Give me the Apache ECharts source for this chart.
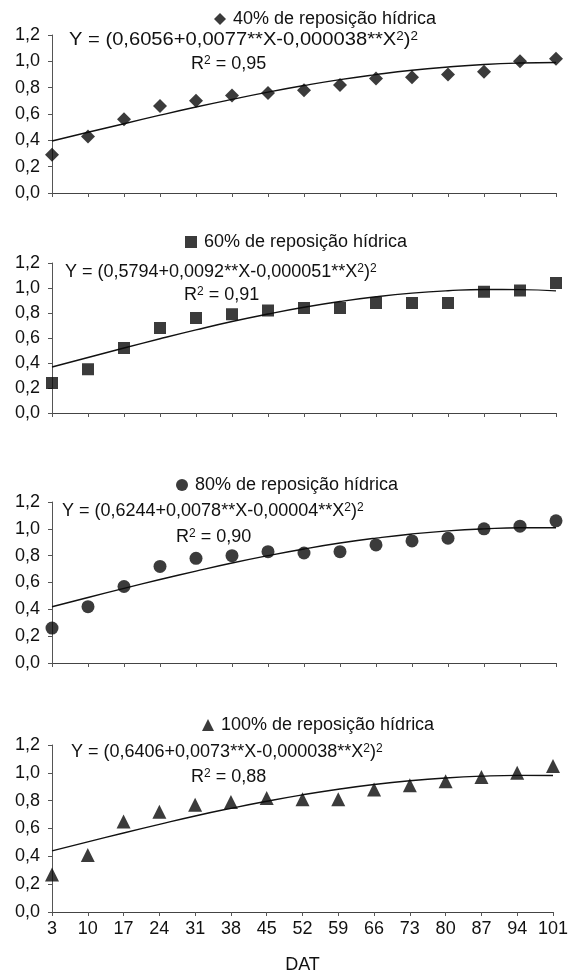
<!DOCTYPE html>
<html>
<head>
<meta charset="utf-8">
<script src="https://cdn.jsdelivr.net/npm/echarts@6/dist/echarts.min.js"></script>
<style>
  html, body { margin: 0; padding: 0; background: #fff; }
  #chart { width: 571px; height: 975px; }
</style>
</head>
<body>
<div id="chart"></div>
<script>
// Days after transplanting (x-axis categories)
const dat = ['3', '10', '17', '24', '31', '38', '45', '52', '59', '66', '73', '80', '87', '94', '101'];

// Observed values per water-replacement level
const obs40  = [0.29, 0.43, 0.56, 0.66, 0.70, 0.74, 0.76, 0.78, 0.82, 0.87, 0.88, 0.90, 0.92, 1.00, 1.02];
const obs60  = [0.24, 0.35, 0.52, 0.68, 0.76, 0.79, 0.82, 0.84, 0.84, 0.88, 0.88, 0.88, 0.97, 0.98, 1.04];
const obs80  = [0.26, 0.42, 0.57, 0.72, 0.78, 0.80, 0.83, 0.82, 0.83, 0.88, 0.91, 0.93, 1.00, 1.02, 1.06];
const obs100 = [0.27, 0.41, 0.65, 0.72, 0.77, 0.79, 0.82, 0.81, 0.81, 0.88, 0.91, 0.94, 0.97, 1.00, 1.05];

// Fitted regression curves at each DAT
const fit40  = [0.395, 0.461, 0.526, 0.591, 0.653, 0.711, 0.766, 0.816, 0.861, 0.899, 0.932, 0.957, 0.976, 0.987, 0.991];
const fit60  = [0.368, 0.444, 0.520, 0.594, 0.665, 0.732, 0.792, 0.846, 0.892, 0.930, 0.959, 0.978, 0.988, 0.987, 0.977];
const fit80  = [0.419, 0.488, 0.556, 0.622, 0.685, 0.745, 0.800, 0.850, 0.894, 0.931, 0.962, 0.985, 1.000, 1.008, 1.008];
const fit100 = [0.439, 0.504, 0.568, 0.630, 0.690, 0.745, 0.796, 0.842, 0.882, 0.916, 0.943, 0.963, 0.976, 0.982, 0.981];

// Y-axis scale
const yMin = 0, yMax = 1.2, yStep = 0.2;

// Panel labels
const names = ['40% de reposição hídrica', '60% de reposição hídrica', '80% de reposição hídrica', '100% de reposição hídrica'];
const equations = [
  ['0,6056', '0,0077', '0,000038'],
  ['0,5794', '0,0092', '0,000051'],
  ['0,6244', '0,0078', '0,00004'],
  ['0,6406', '0,0073', '0,000038']
];
const r2 = ['0,95', '0,91', '0,90', '0,88'];
const xTitle = 'DAT';

const observed = [obs40, obs60, obs80, obs100];
const fitted = [fit40, fit60, fit80, fit100];
const symbols = ['diamond', 'rect', 'circle', 'triangle'];

// Layout of the four stacked panels
const FONT = '"Liberation Sans", Arial, sans-serif';
const gridLeft = 52, gridWidth = 504;
const gridTops = [35, 263, 502, 745];
const gridBottoms = [193, 413, 663, 912];
const legendPos = [[214, 20], [185, 243], [176, 486], [202, 726]];
const eqPos = [[69, 40], [65, 272], [62, 511], [71, 752]];
const eqScale = [1.12, 1.0, 1.0, 1.0];
const r2Pos = [[191, 64], [184, 295], [176, 537], [191, 777]];
const symSizes = [14, 12, 13, 14];

const fmt = v => v.toFixed(1).replace('.', ',');
const supStyle = { s: { fontSize: 12, fontFamily: FONT, fill: '#111', verticalAlign: 'top', lineHeight: 12 } };

const grids = [], xAxes = [], yAxes = [], series = [], legends = [], graphics = [];

for (let i = 0; i < 4; i++) {
  grids.push({ left: gridLeft, width: gridWidth, top: gridTops[i], height: gridBottoms[i] - gridTops[i] });
  xAxes.push({
    type: 'category', gridIndex: i, data: dat, boundaryGap: false,
    axisLine: { show: true, lineStyle: { color: '#444', width: 1 } },
    axisTick: { show: true, alignWithLabel: true, length: 4, lineStyle: { color: '#555' } },
    axisLabel: { show: i === 3, color: '#111', fontSize: 18, fontFamily: FONT, margin: 8, interval: 0 },
    splitLine: { show: false },
    name: i === 3 ? xTitle : '', nameLocation: 'middle', nameGap: 44,
    nameTextStyle: { color: '#111', fontSize: 18, fontFamily: FONT }
  });
  yAxes.push({
    type: 'value', gridIndex: i, min: yMin, max: yMax, interval: yStep,
    axisLine: { show: true, lineStyle: { color: '#555', width: 1 } },
    axisTick: { show: true, length: 4, lineStyle: { color: '#555' } },
    axisLabel: { color: '#111', fontSize: 18, fontFamily: FONT, margin: 12, formatter: fmt },
    splitLine: { show: false }
  });
  series.push({
    name: names[i], type: 'scatter', xAxisIndex: i, yAxisIndex: i,
    data: observed[i], symbol: symbols[i], symbolSize: symSizes[i],
    itemStyle: { color: '#0a0a0a' }, z: 3
  });
  series.push({
    name: 'fit' + i, type: 'line', xAxisIndex: i, yAxisIndex: i,
    data: fitted[i], showSymbol: false, symbol: 'none', smooth: true,
    lineStyle: { color: '#111', width: 1.4 }, z: 2
  });
  legends.push({
    data: [{ name: names[i], icon: symbols[i] }],
    left: legendPos[i][0], top: legendPos[i][1] - 10, padding: 0,
    itemWidth: 12, itemHeight: 12,
    textStyle: { color: '#111', fontSize: 18, fontFamily: FONT, padding: [0, 0, 0, 2] },
    selectedMode: false
  });
  const e = equations[i];
  graphics.push({
    type: 'text', x: eqPos[i][0], y: eqPos[i][1], scaleX: eqScale[i],
    style: {
      text: 'Y = (' + e[0] + '+' + e[1] + '**X-' + e[2] + '**X{s|2})' + '{s|2}',
      fill: '#111', fontSize: 18, fontFamily: FONT, verticalAlign: 'middle', align: 'left',
      rich: supStyle
    }
  });
  graphics.push({
    type: 'text', x: r2Pos[i][0], y: r2Pos[i][1],
    style: {
      text: 'R{s|2} = ' + r2[i],
      fill: '#111', fontSize: 18, fontFamily: FONT, verticalAlign: 'middle', align: 'left',
      rich: supStyle
    }
  });
}

const chart = echarts.init(document.getElementById('chart'), null, { renderer: 'canvas' });
chart.setOption({
  backgroundColor: '#ffffff',
  animation: false,
  textStyle: { fontFamily: FONT },
  grid: grids, xAxis: xAxes, yAxis: yAxes, series: series,
  legend: legends, graphic: graphics
});
</script>
</body>
</html>
